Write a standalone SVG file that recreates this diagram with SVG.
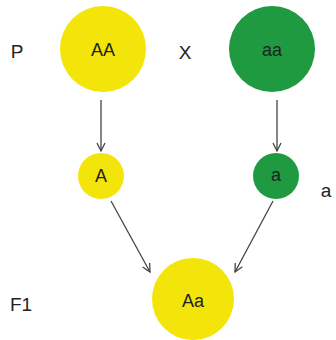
<svg xmlns="http://www.w3.org/2000/svg" width="336" height="340" viewBox="0 0 336 340">
<defs>
<style>
.y{fill:#f3e40a}
.g{fill:#1f9a40}
text{font-family:"Liberation Sans",Arial,sans-serif;font-size:18px;fill:#222;text-anchor:middle;dominant-baseline:central}
.l{font-size:19px}
.c{stroke:#444;stroke-width:1.3;fill:none;marker-end:url(#ah)}
</style>
<marker id="ah" viewBox="0 0 10 10" refX="9" refY="5" markerWidth="10" markerHeight="10" markerUnits="userSpaceOnUse" orient="auto">
<polyline points="1,1 9,5 1,9" fill="none" stroke="#444" stroke-width="1.3"/>
</marker>
</defs>
<rect width="336" height="340" fill="#fff"/>
<text class="l" x="17" y="51">P</text>
<text class="l" x="185" y="52">X</text>
<text class="l" x="326" y="190">a</text>
<text class="l" x="21" y="304">F1</text>
<g id="connectors">
<line class="c" x1="101" y1="100" x2="101" y2="151"/>
<line class="c" x1="277" y1="100" x2="277" y2="151"/>
<line class="c" x1="111" y1="201" x2="150" y2="272"/>
<line class="c" x1="273" y1="201" x2="235" y2="272"/>
</g>
<g id="AA"><circle class="y" cx="103" cy="49" r="43"/><text x="103" y="50">AA</text></g>
<g id="aa"><circle class="g" cx="272" cy="49" r="43"/><text x="272" y="50">aa</text></g>
<g id="A"><circle class="y" cx="101" cy="176" r="23"/><text x="101" y="176">A</text></g>
<g id="a"><circle class="g" cx="276" cy="176" r="23"/><text x="276" y="175">a</text></g>
<g id="Aa"><circle class="y" cx="193" cy="299" r="41"/><text x="193" y="301">Aa</text></g>
</svg>
